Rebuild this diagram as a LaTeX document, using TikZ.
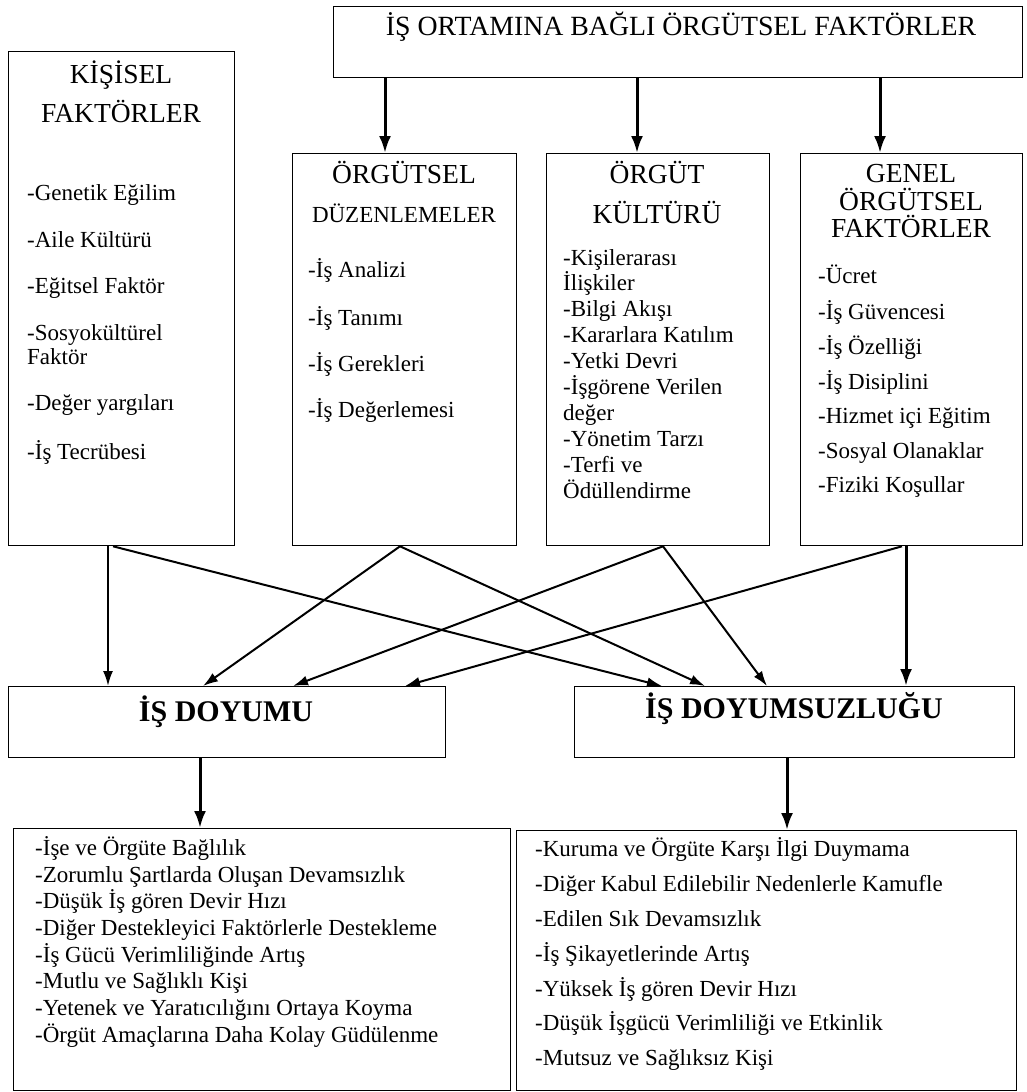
\documentclass[tikz,border=0pt]{standalone}
\usepackage{fontspec}
\setmainfont{Liberation Serif}
\usetikzlibrary{arrows.meta}

\begin{document}
\begin{tikzpicture}
[
	x=1pt,y=-1pt,
	box/.style={draw,line width=1.3pt,inner sep=0pt,anchor=north west},
	title/.style={inner sep=0pt,anchor=base,font=\fontsize{27.5}{31}\selectfont},
	item/.style={inner sep=0pt,anchor=base west,font=\fontsize{23}{27}\selectfont},
	result/.style={inner sep=0pt,anchor=base,font=\fontsize{30}{34}\selectfont\bfseries},
	arr/.style={-{Latex[length=15pt,width=10pt]},line width=2pt},
	thickarr/.style={-{Latex[length=17pt,width=12pt]},line width=3pt}
]

	\useasboundingbox (0,0) rectangle (1027,1092);

	% boxes
	\node[box,minimum width=689,minimum height=71] (ortam) at (333,6) {};
	\node[box,minimum width=226,minimum height=494] (kisisel) at (8,51) {};
	\node[box,minimum width=224,minimum height=392] (duzen) at (292,153) {};
	\node[box,minimum width=223,minimum height=392] (kultur) at (546,153) {};
	\node[box,minimum width=222,minimum height=392] (genel) at (800,153) {};
	\node[box,minimum width=437,minimum height=71] (doyum) at (8,686) {};
	\node[box,minimum width=440,minimum height=71] (doyumsuz) at (574,686) {};
	\node[box,minimum width=497,minimum height=262] (olumlu) at (13,828) {};
	\node[box,minimum width=500,minimum height=260] (olumsuz) at (516,830) {};

	% titles
	\node[title,font=\fontsize{27.8}{31}\selectfont] (ortamt) at (681,35) {İŞ ORTAMINA BAĞLI ÖRGÜTSEL FAKTÖRLER};
	\node[title] (kist1) at (121,83) {KİŞİSEL};
	\node[title] (kist2) at (121,122) {FAKTÖRLER};
	\node[title] (duzt1) at (404,183) {ÖRGÜTSEL};
	\node[title,font=\fontsize{23}{27}\selectfont] (duzt2) at (404,222) {DÜZENLEMELER};
	\node[title] (kult1) at (657,183) {ÖRGÜT};
	\node[title] (kult2) at (657,223) {KÜLTÜRÜ};
	\node[title] (gent1) at (911,182) {GENEL};
	\node[title] (gent2) at (911,210) {ÖRGÜTSEL};
	\node[title] (gent3) at (911,237) {FAKTÖRLER};
	\node[result] (doyumt) at (226,721) {İŞ DOYUMU};
	\node[result] (doyumsuzt) at (794,718) {İŞ DOYUMSUZLUĞU};

	% lists
	\foreach \y/\t [count=\i] in {200/-Genetik Eğilim,247/-Aile Kültürü,293/-Eğitsel Faktör,340/-Sosyokültürel,364/Faktör,410/-Değer yargıları,459/-İş Tecrübesi}
		\node[item] (kis\i) at (27,\y) {\t};
	\foreach \y/\t [count=\i] in {277/-İş Analizi,325/-İş Tanımı,371/-İş Gerekleri,417/-İş Değerlemesi}
		\node[item] (duz\i) at (308,\y) {\t};
	\foreach \y/\t [count=\i] in {265/-Kişilerarası,290/İlişkiler,316/-Bilgi Akışı,342/-Kararlara Katılım,368/-Yetki Devri,394/-İşgörene Verilen,420/değer,446/-Yönetim Tarzı,472/-Terfi ve,498/Ödüllendirme}
		\node[item] (kul\i) at (563,\y) {\t};
	\foreach \y/\t [count=\i] in {283/-Ücret,319/-İş Güvencesi,354/-İş Özelliği,389/-İş Disiplini,423/-Hizmet içi Eğitim,458/-Sosyal Olanaklar,492/-Fiziki Koşullar}
		\node[item] (gen\i) at (818,\y) {\t};
	\foreach \y/\t [count=\i] in {855/-İşe ve Örgüte Bağlılık,882/-Zorumlu Şartlarda Oluşan Devamsızlık,908/-Düşük İş gören Devir Hızı,935/-Diğer Destekleyici Faktörlerle Destekleme,962/-İş Gücü Verimliliğinde Artış,988/-Mutlu ve Sağlıklı Kişi,1015/-Yetenek ve Yaratıcılığını Ortaya Koyma,1042/-Örgüt Amaçlarına Daha Kolay Güdülenme}
		\node[item] (olu\i) at (35,\y) {\t};
	\foreach \y/\t [count=\i] in {856/-Kuruma ve Örgüte Karşı İlgi Duymama,891/-Diğer Kabul Edilebilir Nedenlerle Kamufle,926/-Edilen Sık Devamsızlık,961/-İş Şikayetlerinde Artış,996/-Yüksek İş gören Devir Hızı,1030/-Düşük İşgücü Verimliliği ve Etkinlik,1065/-Mutsuz ve Sağlıksız Kişi}
		\node[item] (ols\i) at (535,\y) {\t};

	% top arrows
	\draw[thickarr] ([xshift=93]duzen.north west |- ortam.south) -- ([xshift=93]duzen.north west);
	\draw[thickarr] ([xshift=91]kultur.north west |- ortam.south) -- ([xshift=91]kultur.north west);
	\draw[thickarr] ([xshift=80]genel.north west |- ortam.south) -- ([xshift=80]genel.north west);

	% middle arrows
	\draw[arr] ([xshift=100]kisisel.south west) -- ([xshift=100]doyum.north west);
	\draw[arr] ([xshift=105]kisisel.south west) -- ([xshift=88]doyumsuz.north west);
	\draw[arr] ([xshift=108]duzen.south west) -- ([xshift=195]doyum.north west);
	\draw[arr] ([xshift=108]duzen.south west) -- ([xshift=131]doyumsuz.north west);
	\draw[arr] ([xshift=117]kultur.south west) -- ([xshift=285]doyum.north west);
	\draw[arr] ([xshift=117]kultur.south west) -- ([xshift=193]doyumsuz.north west);
	\draw[arr] ([xshift=102]genel.south west) -- ([xshift=397]doyum.north west);
	\draw[thickarr] ([xshift=106]genel.south west) -- ([xshift=332]doyumsuz.north west);

	% bottom arrows
	\draw[thickarr] ([xshift=192]doyum.south west) -- ([xshift=187]olumlu.north west);
	\draw[thickarr] ([xshift=213]doyumsuz.south west) -- ([xshift=271]olumsuz.north west);

\end{tikzpicture}
\end{document}
